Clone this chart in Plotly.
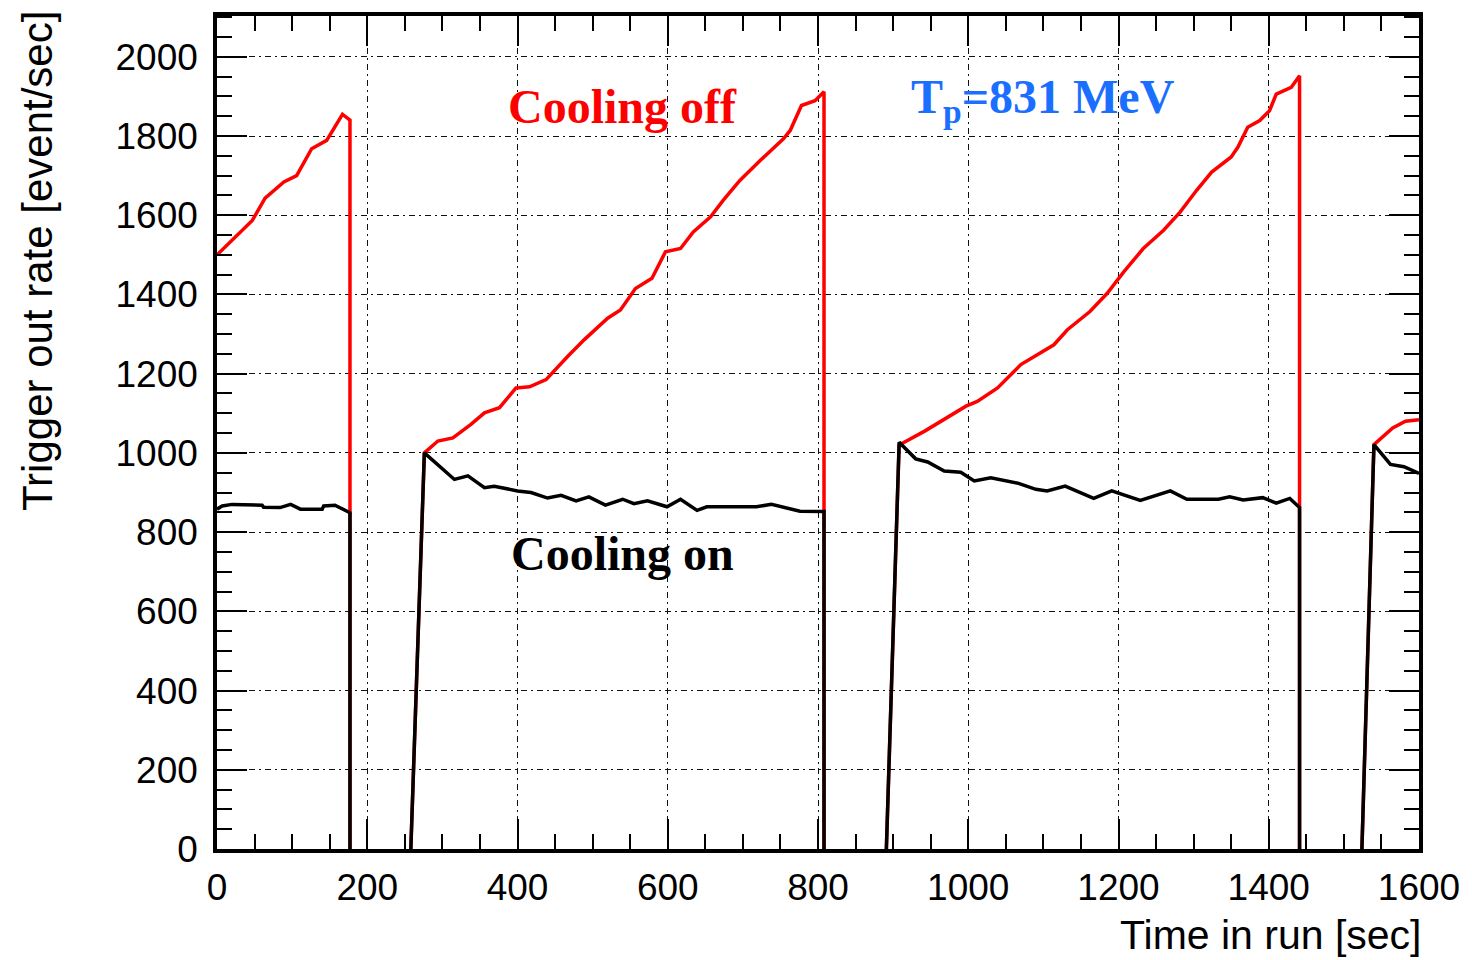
import plotly.graph_objects as go

# Cooling off (red) - time [sec], rate [event/sec]; None marks the beam-off gaps
off_t = [0, 20, 47, 64, 89, 106, 126, 146, 167, 177, 177, None, 258, 276,
         294, 314, 338, 356, 376, 398, 416, 438, 467, 489, 520, 537, 557, 579, 597, 617,
         634, 657, 674, 696, 723, 754, 763, 778, 796, 808, 808, None, 891, 908,
         942, 968, 997, 1012, 1039, 1070, 1096, 1114, 1132, 1162, 1185, 1207, 1233, 1260,
         1282, 1304, 1324, 1350, 1359, 1372, 1388, 1401, 1410, 1430, 1441, 1441, None, 1524, 1540,
         1565, 1582, 1600]
off_rate = [1500, 1537, 1587, 1643, 1684, 1700, 1768, 1789, 1855, 1840, 0, None, 0, 1000,
            1030, 1038, 1072, 1101, 1114, 1164, 1167, 1185, 1244, 1286, 1340, 1361, 1415, 1441, 1508, 1516,
            1558, 1596, 1638, 1688, 1738, 1793, 1814, 1877, 1889, 1912, 0, None, 0, 1020,
            1055, 1084, 1118, 1130, 1164, 1223, 1252, 1273, 1311, 1357, 1403, 1457, 1516, 1562,
            1608, 1663, 1709, 1747, 1772, 1822, 1839, 1864, 1906, 1923, 1952, 0, None, 0, 1021,
            1063, 1080, 1084]

# Cooling on (black)
on_t = [0, 7, 20, 60, 62, 84, 98, 111, 140, 142, 157, 171, 177, 177, None, 258, 276,
        316, 334, 356, 369, 400, 418, 440, 458, 478, 495, 517, 540, 555, 573, 599, 617, 639,
        652, 718, 738, 776, 808, 808, None, 891, 908,
        930, 946, 968, 990, 1008, 1030, 1067, 1090, 1105, 1129, 1167, 1191, 1229, 1269, 1291,
        1333, 1348, 1366, 1392, 1410, 1428, 1441, 1441, None, 1524, 1540, 1562, 1580, 1600]
on_rate = [858, 866, 870, 868, 863, 862, 870, 858, 858, 866, 868, 853, 849, 0, None, 0, 1000,
           933, 942, 912, 916, 904, 900, 886, 893, 879, 889, 868, 883, 872, 879, 864, 883, 855,
           864, 864, 870, 853, 852, 0, None, 0, 1027,
           985, 977, 954, 951, 929, 937, 923, 908, 904, 916, 885, 904, 880, 904, 883,
           883, 889, 881, 887, 873, 885, 862, 0, None, 0, 1021, 971, 965, 948]

x_ticks = [0, 200, 400, 600, 800, 1000, 1200, 1400, 1600]
y_ticks = [0, 200, 400, 600, 800, 1000, 1200, 1400, 1600, 1800, 2000]

fig = go.Figure()
fig.add_trace(go.Scatter(x=off_t, y=off_rate, mode="lines", connectgaps=False,
                         line=dict(color="#ff0000", width=3.5), name="Cooling off"))
fig.add_trace(go.Scatter(x=on_t, y=on_rate, mode="lines", connectgaps=False,
                         line=dict(color="#000000", width=3.5), name="Cooling on"))

grid_dash = "6px,4px,2px,4px"
axis_common = dict(
    showline=True, linecolor="black", linewidth=3.5, mirror="allticks",
    ticks="inside", ticklen=30, tickwidth=2, tickcolor="black",
    showgrid=True, gridcolor="#111111", gridwidth=1.3, griddash=grid_dash,
    zeroline=False,
    tickfont=dict(family="Liberation Sans, Arial, sans-serif", size=37, color="black"),
)

fig.update_xaxes(range=[0, 1600], tickvals=x_ticks, ticktext=[str(v) for v in x_ticks],
                 minor=dict(dtick=50, tick0=0, ticks="inside", ticklen=15, tickwidth=2,
                            tickcolor="black", showgrid=False),
                 ticklabelstandoff=3,
                 **axis_common)
fig.update_yaxes(range=[0, 2103], tickvals=y_ticks, ticktext=[str(v) for v in y_ticks],
                 minor=dict(dtick=50, tick0=0, ticks="inside", ticklen=15, tickwidth=2,
                            tickcolor="black", showgrid=False),
                 ticklabelstandoff=8,
                 **axis_common)

fig.add_annotation(text="Time in run [sec]", xref="paper", yref="paper", x=1, y=0,
                   xanchor="right", yanchor="middle", yshift=-86, xshift=5, showarrow=False,
                   font=dict(family="Liberation Sans, Arial, sans-serif", size=41, color="black"))
fig.add_annotation(text="Trigger out rate [event/sec]", xref="paper", yref="paper", x=0, y=1,
                   xshift=-180, xanchor="center", yanchor="top", yshift=7, textangle=-90,
                   showarrow=False,
                   font=dict(family="Liberation Sans, Arial, sans-serif", size=42, color="black"))

serif = "Liberation Serif, Times New Roman, serif"
fig.add_annotation(text="Cooling off", x=540, y=1874, showarrow=False,
                   font=dict(family=serif, size=48, color="#ff0000", weight="bold"))
fig.add_annotation(text="Cooling on", x=540, y=745, showarrow=False,
                   font=dict(family=serif, size=48, color="black", weight="bold"))
fig.add_annotation(text="T<sub>p</sub>=831 MeV", x=1100, y=1892, yanchor="middle", showarrow=False,
                   font=dict(family=serif, size=48, color="#1a6fff", weight="bold"))

fig.update_layout(
    width=1472, height=960,
    margin=dict(l=217, r=47, t=14, b=111),
    paper_bgcolor="white", plot_bgcolor="white",
    showlegend=False,
)

fig.write_html("out.html")
